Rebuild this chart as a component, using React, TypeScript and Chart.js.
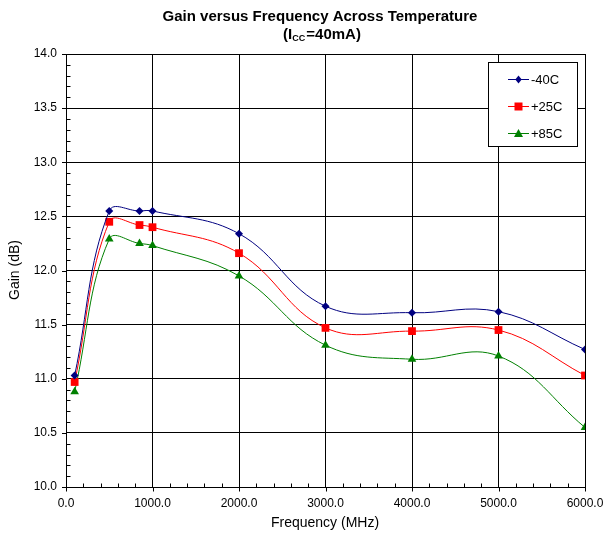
import React, { useEffect, useRef } from "react";
import { Chart, registerables } from "chart.js";

Chart.register(...registerables);

const frequencies = [100, 500, 850, 1000, 2000, 3000, 4000, 5000, 6000];
const gainMinus40 = [11.03, 12.55, 12.55, 12.55, 12.34, 11.67, 11.61, 11.62, 11.27];
const gainPlus25 = [10.97, 12.45, 12.42, 12.4, 12.16, 11.47, 11.44, 11.45, 11.03];
const gainPlus85 = [10.88, 12.29, 12.25, 12.23, 11.95, 11.31, 11.18, 11.21, 10.55];
const seriesLabels = ["-40C", "+25C", "+85C"];
const seriesColors = ["#000080", "#ff0000", "#008000"];
const titleText = "Gain versus Frequency Across Temperature";
const subtitleParts = ["(I", "CC", "=40mA)"];
const xAxisTitle = "Frequency (MHz)";
const yAxisTitle = "Gain (dB)";

const FONT = '"Liberation Sans", Arial, Helvetica, sans-serif';

function drawMarker(ctx: CanvasRenderingContext2D, style: string, x: number, y: number, color: string) {
  ctx.save();
  ctx.fillStyle = color;
  ctx.strokeStyle = color;
  ctx.beginPath();
  if (style === "rectRot") {
    ctx.moveTo(x, y - 4);
    ctx.lineTo(x + 3.2, y);
    ctx.lineTo(x, y + 4);
    ctx.lineTo(x - 3.2, y);
    ctx.closePath();
  } else if (style === "rect") {
    ctx.rect(x - 4, y - 4, 8, 8);
  } else {
    ctx.moveTo(x, y - 4.5);
    ctx.lineTo(x + 4.5, y + 3.5);
    ctx.lineTo(x - 4.5, y + 3.5);
    ctx.closePath();
  }
  ctx.fill();
  ctx.restore();
}

const decorPlugin = {
  id: "decor",
  afterDraw(chart: any) {
    const ctx: CanvasRenderingContext2D = chart.ctx;
    const area = chart.chartArea;
    const xs = chart.scales.x;
    const ys = chart.scales.y;
    ctx.save();
    // minor / major tick marks
    ctx.strokeStyle = "#000";
    ctx.lineWidth = 1;
    ctx.beginPath();
    for (let i = 0; i <= 40; i++) {
      const v = 10 + i * 0.1;
      const py = Math.round(ys.getPixelForValue(v)) + 0.5;
      const l = Math.round(area.left) + 0.5;
      if (i % 5 === 0) {
        ctx.moveTo(l - 4.5, py);
        ctx.lineTo(l, py);
      } else {
        ctx.moveTo(l, py);
        ctx.lineTo(l + 4, py);
      }
    }
    for (let i = 0; i <= 30; i++) {
      const v = i * 200;
      const px = Math.round(xs.getPixelForValue(v)) + 0.5;
      const b = Math.round(area.bottom) + 0.5;
      if (i % 5 === 0) {
        ctx.moveTo(px, b);
        ctx.lineTo(px, b + 4);
      } else {
        ctx.moveTo(px, b);
        ctx.lineTo(px, b - 4);
      }
    }
    ctx.stroke();

    // title
    ctx.fillStyle = "#000";
    ctx.textBaseline = "alphabetic";
    ctx.textAlign = "center";
    ctx.font = `bold 15px ${FONT}`;
    ctx.fillText(titleText, 320, 21);

    // subtitle with subscript
    ctx.textAlign = "left";
    ctx.font = `bold 15px ${FONT}`;
    const w1 = ctx.measureText(subtitleParts[0]).width;
    const w3 = ctx.measureText(subtitleParts[2]).width;
    ctx.font = `bold 9px ${FONT}`;
    const w2 = ctx.measureText(subtitleParts[1]).width;
    let sx = 322 - (w1 + w2 + w3 + 1) / 2;
    ctx.font = `bold 15px ${FONT}`;
    ctx.fillText(subtitleParts[0], sx, 39);
    sx += w1;
    ctx.font = `bold 9px ${FONT}`;
    ctx.fillText(subtitleParts[1], sx, 41);
    sx += w2 + 1;
    ctx.font = `bold 15px ${FONT}`;
    ctx.fillText(subtitleParts[2], sx, 39);

    // axis titles
    ctx.font = `14px ${FONT}`;
    ctx.textAlign = "center";
    ctx.textBaseline = "middle";
    ctx.fillText(xAxisTitle, 325, 523);
    ctx.save();
    ctx.translate(15, 270);
    ctx.rotate(-Math.PI / 2);
    ctx.fillText(yAxisTitle, 0, 0);
    ctx.restore();

    // legend
    const bx = 488.5, by = 62.5, bw = 89, bh = 84;
    ctx.fillStyle = "#fff";
    ctx.fillRect(bx, by, bw, bh);
    ctx.strokeStyle = "#000";
    ctx.lineWidth = 1;
    ctx.strokeRect(bx, by, bw, bh);
    const rows = [79, 106, 133];
    chart.data.datasets.forEach((ds: any, i: number) => {
      const y = rows[i];
      ctx.strokeStyle = ds.borderColor;
      ctx.lineWidth = 1;
      ctx.beginPath();
      ctx.moveTo(508, y + 0.5);
      ctx.lineTo(529, y + 0.5);
      ctx.stroke();
      drawMarker(ctx, ds.pointStyle, 518.5, y + 0.5, ds.borderColor);
      ctx.fillStyle = "#000";
      ctx.font = `13px ${FONT}`;
      ctx.textAlign = "left";
      ctx.textBaseline = "middle";
      ctx.fillText(ds.label, 531, y + 1);
    });
    ctx.restore();
  },
};

export default function App() {
  const canvasRef = useRef<HTMLCanvasElement | null>(null);

  useEffect(() => {
    if (!canvasRef.current) return;
    const mk = (vals: number[]) => frequencies.map((f, i) => ({ x: f, y: vals[i] }));
    const styles = ["rectRot", "rect", "triangle"];
    const radii = [4, 5.5, 5];
    const all = [gainMinus40, gainPlus25, gainPlus85];
    const chart = new Chart(canvasRef.current, {
      type: "line",
      data: {
        datasets: all.map((vals, i) => ({
          label: seriesLabels[i],
          data: mk(vals),
          borderColor: seriesColors[i],
          backgroundColor: seriesColors[i],
          pointBackgroundColor: seriesColors[i],
          pointBorderColor: seriesColors[i],
          pointBorderWidth: 0,
          borderWidth: 1,
          pointStyle: styles[i],
          pointRadius: radii[i],
          tension: 0.4,
          fill: false,
        })),
      },
      options: {
        responsive: false,
        animation: false,
        devicePixelRatio: 1,
        layout: { padding: { top: 54, right: 21, left: 0, bottom: 0 } },
        plugins: {
          legend: { display: false },
          title: { display: false },
          tooltip: { enabled: false },
        },
        scales: {
          x: {
            type: "linear",
            min: 0,
            max: 6000,
            afterFit: (s: any) => {
              s.height = 58;
              s.paddingLeft = 0;
              s.paddingRight = 0;
            },
            ticks: {
              stepSize: 1000,
              color: "#000",
              font: { family: FONT, size: 12 },
              padding: 9,
              maxRotation: 0,
              callback: (v: any) => Number(v).toFixed(1),
            },
            grid: { color: "#000", lineWidth: 1, drawTicks: false },
            border: { display: true, color: "#000", width: 1 },
          },
          y: {
            type: "linear",
            min: 10,
            max: 14,
            afterFit: (s: any) => {
              s.width = 66;
              s.paddingTop = 0;
              s.paddingBottom = 0;
            },
            ticks: {
              stepSize: 0.5,
              color: "#000",
              font: { family: FONT, size: 12 },
              padding: 9,
              callback: (v: any) => Number(v).toFixed(1),
            },
            grid: { color: "#000", lineWidth: 1, drawTicks: false },
            border: { display: true, color: "#000", width: 1 },
          },
        },
      },
      plugins: [decorPlugin],
    } as any);
    return () => chart.destroy();
  }, []);

  return (
    <div style={{ position: "absolute", left: 0, top: 0, width: 606, height: 545, background: "#fff" }}>
      <canvas ref={canvasRef} width={606} height={545} style={{ display: "block" }} />
    </div>
  );
}
